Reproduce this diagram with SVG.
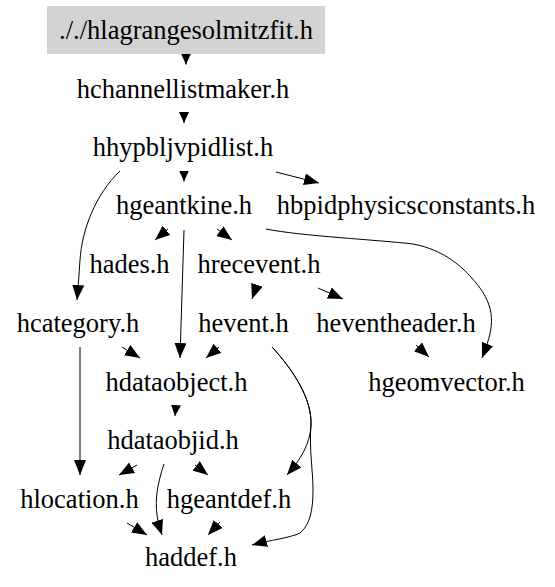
<svg xmlns="http://www.w3.org/2000/svg" width="555" height="587" viewBox="0 0 555 587">
<style>
  .lbl { font-family: "Liberation Serif", "Times New Roman", Times, serif; font-size: 26.5px; fill: #000; text-anchor: middle; }
  .e { fill: none; stroke: #000; stroke-width: 1; }
  .eh { marker-end: url(#ah); }
  .es { marker-end: url(#as); }
</style>
<defs>
  <marker id="ah" markerUnits="userSpaceOnUse" markerWidth="15" markerHeight="12" refX="15" refY="6" orient="auto" viewBox="0 0 15 12">
    <path d="M0,0 L15,6 L0,12 z" fill="#000"/>
  </marker>
  <marker id="as" markerUnits="userSpaceOnUse" markerWidth="11" markerHeight="10" refX="11" refY="5" orient="auto" viewBox="0 0 11 10">
    <path d="M0,0 L11,5 L0,10 z" fill="#000"/>
  </marker>
</defs>
<rect width="555" height="587" fill="#fff"/>
<g id="edges">
  <path class="e es" d="M186,54 L186,64.5"/>
  <path class="e es" d="M184,112.5 L184,123"/>
  <path class="e es" d="M184,171 L184,181.5"/>
  <path class="e eh" d="M276,172 L319,183"/>
  <path class="e eh" d="M120,171 C95,195 82,230 80,260 C79,275 78,288 77,300"/>
  <path class="e eh" d="M168,229 L155,240"/>
  <path class="e eh" d="M184,230 L180,358"/>
  <path class="e eh" d="M217,229 L232,240"/>
  <path class="e eh" d="M266,229 C300,236 380,240 413,244 C445,250 465,268 480,288 C497,312 493,330 482,358"/>
  <path class="e eh" d="M256.5,286 L252,299"/>
  <path class="e eh" d="M318,288 L343,299"/>
  <path class="e eh" d="M122,347 L140,358"/>
  <path class="e eh" d="M219,347 L206,358"/>
  <path class="e eh" d="M80,347 L80,475"/>
  <path class="e eh" d="M272,347 C295,372 312,400 311,425 C310,445 300,460 287,475"/>
  <path class="e eh" d="M272,347 C295,372 312,400 311,425 C309,450 313,470 313,490 C313,510 310,525 300,533 C290,538 270,540 252,545"/>
  <path class="e eh" d="M416,345 L429,357"/>
  <path class="e es" d="M176,405.5 L175,416"/>
  <path class="e eh" d="M137,465 L119,475"/>
  <path class="e eh" d="M164,464 C157,485 155,500 157,515 C158,523 160,529 162,535"/>
  <path class="e eh" d="M195,465 L208,475"/>
  <path class="e eh" d="M127,523 L147,535"/>
  <path class="e eh" d="M220,522 L208,535"/>
</g>
<g id="n_root">
  <rect x="47" y="6" width="278" height="48" fill="#d3d3d3"/>
  <text class="lbl" x="186" y="39">././hlagrangesolmitzfit.h</text>
</g>
<g id="n_hchannellistmaker"><text class="lbl" x="183" y="97.5">hchannellistmaker.h</text></g>
<g id="n_hhypbljvpidlist"><text class="lbl" x="183" y="155.5">hhypbljvpidlist.h</text></g>
<g id="n_hgeantkine"><text class="lbl" x="184" y="214">hgeantkine.h</text></g>
<g id="n_hbpidphysicsconstants"><text class="lbl" x="406" y="214">hbpidphysicsconstants.h</text></g>
<g id="n_hades"><text class="lbl" x="129.5" y="273">hades.h</text></g>
<g id="n_hrecevent"><text class="lbl" x="259" y="273">hrecevent.h</text></g>
<g id="n_hcategory"><text class="lbl" x="78" y="331.5">hcategory.h</text></g>
<g id="n_hevent"><text class="lbl" x="243.5" y="331.5">hevent.h</text></g>
<g id="n_heventheader"><text class="lbl" x="396" y="331.5">heventheader.h</text></g>
<g id="n_hdataobject"><text class="lbl" x="176.5" y="390.5">hdataobject.h</text></g>
<g id="n_hgeomvector"><text class="lbl" x="446.5" y="390.5">hgeomvector.h</text></g>
<g id="n_hdataobjid"><text class="lbl" x="173" y="449">hdataobjid.h</text></g>
<g id="n_hlocation"><text class="lbl" x="79.5" y="507.5">hlocation.h</text></g>
<g id="n_hgeantdef"><text class="lbl" x="229" y="507.5">hgeantdef.h</text></g>
<g id="n_haddef"><text class="lbl" x="191" y="565.5">haddef.h</text></g>
</svg>
